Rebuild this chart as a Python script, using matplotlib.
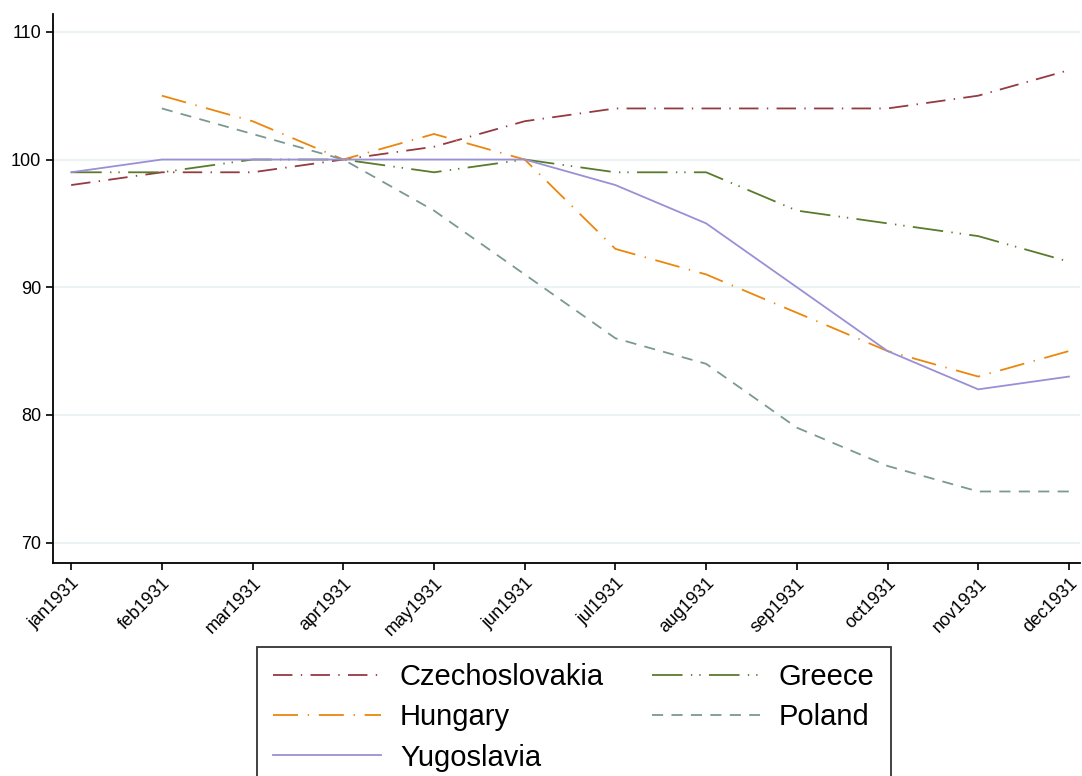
import numpy as np
import matplotlib
matplotlib.use("Agg")
import matplotlib.pyplot as plt

plt.rcParams['font.family'] = ['Liberation Sans', 'DejaVu Sans']
plt.rcParams['lines.scale_dashes'] = False

months = ['jan1931', 'feb1931', 'mar1931', 'apr1931', 'may1931', 'jun1931',
          'jul1931', 'aug1931', 'sep1931', 'oct1931', 'nov1931', 'dec1931']

czechoslovakia = [98, 99, 99, 100, 101, 103, 104, 104, 104, 104, 105, 107]
greece = [99, 99, 100, 100, 99, 100, 99, 99, 96, 95, 94, 92]
hungary = [np.nan, 105, 103, 100, 102, 100, 93, 91, 88, 85, 83, 85]
poland = [np.nan, 104, 102, 100, 96, 91, 86, 84, 79, 76, 74, 74]
yugoslavia = [99, 100, 100, 100, 100, 100, 98, 95, 90, 85, 82, 83]

series = [
    ('Czechoslovakia', czechoslovakia, '#953a42', (0, (14, 6, 1, 6))),
    ('Greece', greece, '#5b7b2c', (0, (22, 6, 1, 5, 1, 6))),
    ('Hungary', hungary, '#ea870c', (0, (18, 7, 1, 7))),
    ('Poland', poland, '#7b9990', (0, (8, 6))),
    ('Yugoslavia', yugoslavia, '#9990d6', '-'),
]

fig = plt.figure(figsize=(10.82, 7.76), dpi=100)
ax = fig.add_axes([0.049, 0.2745, 0.949, 0.7075])

x = np.arange(len(months))
lines = {}
for name, vals, col, ls in series:
    ln, = ax.plot(x, vals, color=col, linestyle=ls, linewidth=1.3, label=name)
    lines[name] = ln

ax.set_xlim(-0.2, 11.12)
ax.set_ylim(68.4, 111.4)
ax.set_yticks([70, 80, 90, 100, 110])
ax.set_xticks(x)
ax.set_xticklabels(months, rotation=45, ha='right', rotation_mode='anchor', fontsize=13)
ax.tick_params(axis='y', labelsize=13, length=5, width=1.2, direction='out')
ax.tick_params(axis='x', length=5, width=1.2, direction='out')
ax.yaxis.grid(True, color='#eaf2f3', linewidth=1.5)
ax.set_axisbelow(True)
for s in ['top', 'right']:
    ax.spines[s].set_visible(False)
for s in ['left', 'bottom']:
    ax.spines[s].set_linewidth(1.3)

# legend fills row by row in the reference
handles = [lines['Czechoslovakia'], lines['Hungary'], lines['Yugoslavia'],
           lines['Greece'], lines['Poland']]
labels = ['Czechoslovakia', 'Hungary', 'Yugoslavia', 'Greece', 'Poland']
leg = fig.legend(handles, labels, loc='upper left', bbox_to_anchor=(257 / 1082, 129 / 776),
                 ncol=2, fontsize=21, frameon=True, fancybox=False, edgecolor='black',
                 handlelength=3.7, handletextpad=0.65, columnspacing=1.64,
                 labelspacing=0.42, borderpad=0.55, borderaxespad=0)
leg.get_frame().set_linewidth(1.3)

fig.savefig('out.png', dpi=100)
